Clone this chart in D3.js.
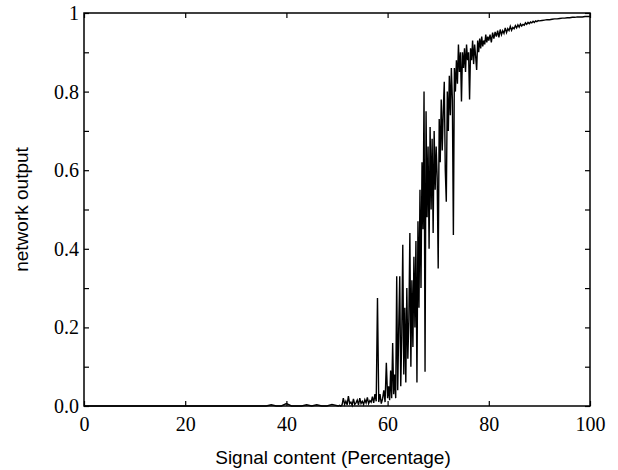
<!DOCTYPE html>
<html>
<head>
<meta charset="utf-8">
<script src="https://cdn.jsdelivr.net/npm/d3@7"></script>
<style>
  body { margin: 0; background: #fff; }
</style>
</head>
<body>
<div id="chart"></div>
<script>
// Flat part of the curve, 0..50 % in steps of 1
const baseStart = 0, baseStep = 1;
const baseOutput = [
    0, 0, 0, 0, 0, 0, 0, 0, 0, 0,
    0, 0, 0, 0, 0, 0, 0, 0, 0, 0,
    0, 0, 0, 0, 0, 0, 0, 0, 0, 0,
    0, 0, 0, 0, 0, 0, 0, 0.003, 0, 0,
    0.006, 0, 0, 0, 0.003, 0, 0.003, 0, 0, 0.004
];

// Noisy floor, 50.25..60 % in steps of 0.25
const lowStart = 50.25, lowStep = 0.25;
const lowOutput = [
    0, 0.002, 0, 0.003, 0.02, 0.004, 0.012, 0.003,
    0.025, 0.006, 0.01, 0.002, 0.018, 0.004, 0.008, 0.015,
    0.003, 0.02, 0.006, 0.012, 0.004, 0.016, 0.008, 0.022,
    0.006, 0.014, 0.01, 0.024, 0.008, 0.03, 0.012, 0.275,
    0.01, 0.03, 0.006, 0.018, 0.04, 0.01, 0.11, 0.02
];

// Transition, 60.2..80 % in steps of 0.2
const riseStart = 60.2, riseStep = 0.2;
const riseOutput = [
    0.05, 0.015, 0.09, 0.02, 0.16, 0.03, 0.08, 0.02, 0.33,
    0.04, 0.2, 0.33, 0.05, 0.18, 0.41, 0.08, 0.25, 0.06, 0.3,
    0.12, 0.22, 0.44, 0.1, 0.32, 0.15, 0.38, 0.2, 0.42, 0.06,
    0.47, 0.25, 0.55, 0.3, 0.62, 0.45, 0.8, 0.087, 0.75, 0.48,
    0.66, 0.4, 0.71, 0.5, 0.68, 0.44, 0.7, 0.55, 0.66, 0.58,
    0.35, 0.73, 0.62, 0.78, 0.65, 0.75, 0.825, 0.6, 0.52, 0.8,
    0.7, 0.84, 0.74, 0.86, 0.78, 0.435, 0.86, 0.8, 0.88, 0.82,
    0.92, 0.85, 0.9, 0.775, 0.9, 0.86, 0.91, 0.85, 0.92, 0.88,
    0.9, 0.78, 0.91, 0.88, 0.93, 0.87, 0.92, 0.89, 0.855, 0.93,
    0.9, 0.935, 0.91, 0.94, 0.915, 0.93, 0.92, 0.945, 0.925, 0.94,
    0.93
];

// Saturation, 80.25..90 % in steps of 0.25
const tailStart = 80.25, tailStep = 0.25;
const tailOutput = [
    0.945, 0.925, 0.95, 0.935, 0.952, 0.94, 0.955, 0.938, 0.958, 0.945,
    0.955, 0.948, 0.962, 0.95, 0.96, 0.955, 0.966, 0.956, 0.963, 0.96,
    0.968, 0.962, 0.97, 0.964, 0.972, 0.967, 0.971, 0.969, 0.975, 0.971,
    0.976, 0.973, 0.977, 0.975, 0.979, 0.976, 0.98, 0.978, 0.981, 0.98
];

// Plateau, 90.5..100 % in steps of 0.5
const endStart = 90.5, endStep = 0.5;
const endOutput = [
    0.981, 0.982, 0.983, 0.983, 0.984, 0.985, 0.985, 0.986, 0.987, 0.987,
    0.988, 0.988, 0.989, 0.989, 0.99, 0.99, 0.99, 0.991, 0.991, 0.991
];

const xTicks = [0, 20, 40, 60, 80, 100];
const yTicks = [0, 0.1, 0.2, 0.3, 0.4, 0.5, 0.6, 0.7, 0.8, 0.9, 1];
const yLabels = { 0: "0.0", 0.2: "0.2", 0.4: "0.4", 0.6: "0.6", 0.8: "0.8", 1: "1" };

// pair each output with its signal percentage
function pairUp(start, step, values) {
    return values.map((v, i) => ({ x: start + i * step, y: v }));
}
const data = [].concat(
    pairUp(baseStart, baseStep, baseOutput),
    pairUp(lowStart, lowStep, lowOutput),
    pairUp(riseStart, riseStep, riseOutput),
    pairUp(tailStart, tailStep, tailOutput),
    pairUp(endStart, endStep, endOutput)
);

const W = 618, H = 470;
const margin = { top: 13, right: 28, bottom: 64, left: 84 };
const width = W - margin.left - margin.right;
const height = H - margin.top - margin.bottom;

const svg = d3.select("#chart").append("svg")
    .attr("width", W)
    .attr("height", H);

const g = svg.append("g")
    .attr("transform", "translate(" + margin.left + "," + margin.top + ")");

const x = d3.scaleLinear().domain([0, 100]).range([0, width]);
const y = d3.scaleLinear().domain([0, 1]).range([height, 0]);

const serif = "'Liberation Serif', 'Times New Roman', serif";
const sans = "'Liberation Sans', Arial, sans-serif";

// the curve
g.append("path")
    .datum(data)
    .attr("fill", "none")
    .attr("stroke", "#000")
    .attr("stroke-width", 1.4)
    .attr("stroke-linejoin", "miter")
    .attr("d", d3.line().x(d => x(d.x)).y(d => y(d.y)));

// axes with inward ticks on all four sides
const tickLen = 5;
g.append("g")
    .attr("transform", "translate(0," + height + ")")
    .call(d3.axisBottom(x).tickValues(xTicks).tickSizeInner(-tickLen).tickSizeOuter(0).tickPadding(11))
    .call(a => a.select(".domain").remove())
    .call(a => a.selectAll("text").style("font-family", serif).style("font-size", "20px").attr("fill", "#000"));

g.append("g")
    .call(d3.axisTop(x).tickValues(xTicks).tickSizeInner(-tickLen).tickSizeOuter(0).tickFormat(""))
    .call(a => a.select(".domain").remove());

g.append("g")
    .call(d3.axisLeft(y).tickValues(yTicks).tickSizeInner(-tickLen).tickSizeOuter(0).tickPadding(5)
        .tickFormat(d => yLabels[Math.round(d * 10) / 10] || ""))
    .call(a => a.select(".domain").remove())
    .call(a => a.selectAll("text").style("font-family", serif).style("font-size", "20px").attr("fill", "#000"));

g.append("g")
    .attr("transform", "translate(" + width + ",0)")
    .call(d3.axisRight(y).tickValues(yTicks).tickSizeInner(-tickLen).tickSizeOuter(0).tickFormat(""))
    .call(a => a.select(".domain").remove());

g.selectAll(".tick line").attr("stroke", "#000").attr("stroke-width", 1.2);

// frame
g.append("rect")
    .attr("width", width)
    .attr("height", height)
    .attr("fill", "none")
    .attr("stroke", "#000")
    .attr("stroke-width", 1.5);

// axis titles
svg.append("text")
    .attr("x", margin.left + width / 2 - 4)
    .attr("y", 464)
    .attr("text-anchor", "middle")
    .style("font-family", sans)
    .style("font-size", "19px")
    .text("Signal content (Percentage)");

svg.append("text")
    .attr("transform", "translate(28," + (margin.top + height / 2) + ") rotate(-90)")
    .attr("text-anchor", "middle")
    .style("font-family", sans)
    .style("font-size", "19px")
    .text("network output");
</script>
</body>
</html>
